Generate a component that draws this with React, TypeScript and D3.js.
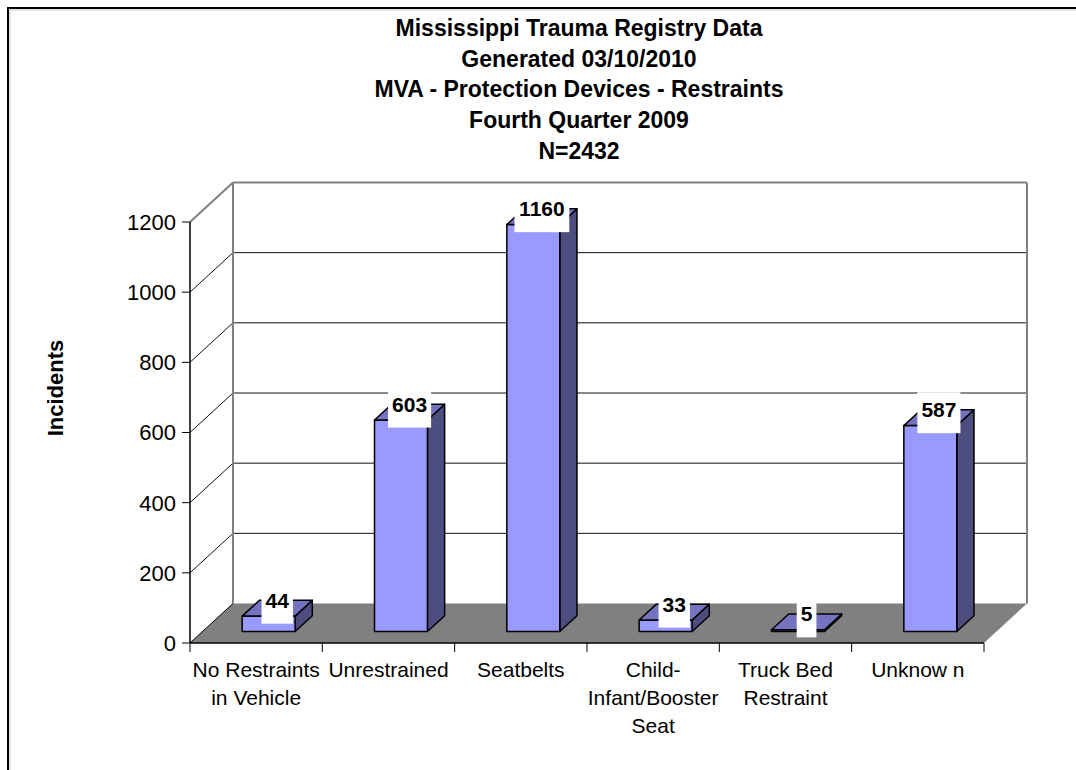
import React from "react";
import * as d3 from "d3";

const titleLines = [
  "Mississippi Trauma Registry Data",
  "Generated 03/10/2010",
  "MVA - Protection Devices - Restraints",
  "Fourth Quarter 2009",
  "N=2432",
];
const categories = [
  "No Restraints in Vehicle",
  "Unrestrained",
  "Seatbelts",
  "Child-Infant/Booster Seat",
  "Truck Bed Restraint",
  "Unknow n",
];
const categoryLines = [
  ["No Restraints", "in Vehicle"],
  ["Unrestrained"],
  ["Seatbelts"],
  ["Child-", "Infant/Booster", "Seat"],
  ["Truck Bed", "Restraint"],
  ["Unknow n"],
];
const values = [44, 603, 1160, 33, 5, 587];
const yTicks = [0, 200, 400, 600, 800, 1000, 1200];
const yLabel = "Incidents";

const FONT = "'Liberation Sans', Arial, Helvetica, sans-serif";
const DX = 43;
const DY = -39.5;
const Z0 = 0.29;
const Z1 = 0.69;

export default function App() {
  const x = d3.scaleBand<string>().domain(categories).range([190, 984]).padding(0);
  const y = d3.scaleLinear().domain([0, 1200]).range([643, 222]);
  const P = (px: number, v: number, z: number): [number, number] => [px + z * DX, y(v) + z * DY];
  const poly = (pts: [number, number][]) => pts.map((p) => p.join(",")).join(" ");
  const step = x.step();
  const bw = step * 0.4;

  const xL = 190, xR = 984;
  const floor = poly([P(xL, 0, 0), P(xR, 0, 0), P(xR, 0, 1), P(xL, 0, 1)]);

  return (
    <svg width={1076} height={770} style={{ position: "absolute", left: 0, top: 0, display: "block" }}>
      <rect x={0} y={0} width={1076} height={770} fill="#fff" />
      {/* outer border */}
      <rect x={8} y={8} width={1200} height={900} fill="none" stroke="#000" strokeWidth={2} />
      <line x1={10} y1={10} x2={1076} y2={10} stroke="#ccc" strokeWidth={1} />
      <line x1={10} y1={10} x2={10} y2={770} stroke="#ccc" strokeWidth={1} />

      {/* title */}
      {titleLines.map((t, i) => (
        <text key={i} x={579} y={36 + i * 30.7} textAnchor="middle" fontFamily={FONT} fontWeight="bold" fontSize={23}>
          {t}
        </text>
      ))}

      {/* back wall gridlines */}
      {yTicks.slice(1, -1).map((v) => {
        const a = P(xL, v, 1), b = P(xR, v, 1), f = P(xL, v, 0);
        return (
          <g key={v}>
            <line x1={a[0]} y1={a[1]} x2={b[0]} y2={b[1]} stroke="#111" strokeWidth={1} />
            <line x1={f[0]} y1={f[1]} x2={a[0]} y2={a[1]} stroke="#111" strokeWidth={1} />
          </g>
        );
      })}
      {/* wall border */}
      {(() => {
        const tl = P(xL, 1200, 1), tr = P(xR, 1200, 1), bl = P(xL, 0, 1), br = P(xR, 0, 1), ft = P(xL, 1200, 0);
        return (
          <g stroke="#808080" strokeWidth={2} fill="none">
            <line x1={tl[0]} y1={tl[1]} x2={tr[0]} y2={tr[1]} />
            <line x1={tl[0]} y1={tl[1]} x2={bl[0]} y2={bl[1]} />
            <line x1={tr[0]} y1={tr[1]} x2={br[0]} y2={br[1]} />
            <line x1={ft[0]} y1={ft[1]} x2={tl[0]} y2={tl[1]} />
          </g>
        );
      })()}

      {/* floor */}
      <polygon points={floor} fill="#808080" stroke="none" />
      {(() => {
        const a = P(xL, 0, 0), b = P(xL, 0, 1);
        return <line x1={a[0]} y1={a[1]} x2={b[0]} y2={b[1]} stroke="#000" strokeWidth={1} />;
      })()}

      {/* bars */}
      {categories.map((c, i) => {
        const v = values[i];
        const cx = (x(c) as number) + step / 2;
        const l = cx - bw / 2, r = cx + bw / 2;
        const front = poly([P(l, 0, Z0), P(r, 0, Z0), P(r, v, Z0), P(l, v, Z0)]);
        const top = poly([P(l, v, Z0), P(r, v, Z0), P(r, v, Z1), P(l, v, Z1)]);
        const side = poly([P(r, 0, Z0), P(r, 0, Z1), P(r, v, Z1), P(r, v, Z0)]);
        return (
          <g key={c} stroke="#000" strokeWidth={1.5} strokeLinejoin="round">
            <polygon points={side} fill="#4d4d80" />
            <polygon points={front} fill="#9999ff" />
            <polygon points={top} fill="#7373bf" />
          </g>
        );
      })}

      {/* value labels */}
      {categories.map((c, i) => {
        const v = values[i];
        const cx = (x(c) as number) + step / 2;
        const [lx, ly] = P(cx, v, (Z0 + Z1) / 2);
        const base = ly - 0.5;
        const s = String(v);
        const w = s.length * 11.7 + 8;
        return (
          <g key={c}>
            <rect x={lx - w / 2} y={base - 25} width={w} height={41} fill="#fff" />
            <text x={lx} y={base} textAnchor="middle" fontFamily={FONT} fontWeight="bold" fontSize={21}>
              {s}
            </text>
          </g>
        );
      })}

      {/* axes */}
      <line x1={190} y1={y(1200)} x2={190} y2={y(0)} stroke="#000" strokeWidth={1.5} />
      <line x1={190} y1={y(0)} x2={984} y2={y(0)} stroke="#000" strokeWidth={1.5} />
      {yTicks.map((v) => (
        <g key={v}>
          <line x1={182} y1={y(v)} x2={190} y2={y(v)} stroke="#000" strokeWidth={1} />
          <text x={176} y={y(v)} dy="0.36em" textAnchor="end" fontFamily={FONT} fontSize={22}>
            {v}
          </text>
        </g>
      ))}
      {d3.range(categories.length + 1).map((k) => (
        <line key={k} x1={190 + k * step} y1={643} x2={190 + k * step} y2={652} stroke="#000" strokeWidth={1} />
      ))}
      {categories.map((c, i) => {
        const cx = (x(c) as number) + step / 2;
        return (
          <text key={c} textAnchor="middle" fontFamily={FONT} fontSize={21}>
            {categoryLines[i].map((ln, j) => (
              <tspan key={j} x={cx} y={677 + j * 28}>
                {ln}
              </tspan>
            ))}
          </text>
        );
      })}
      <text transform="translate(63,388) rotate(-90)" textAnchor="middle" fontFamily={FONT} fontWeight="bold" fontSize={22}>
        {yLabel}
      </text>
    </svg>
  );
}
